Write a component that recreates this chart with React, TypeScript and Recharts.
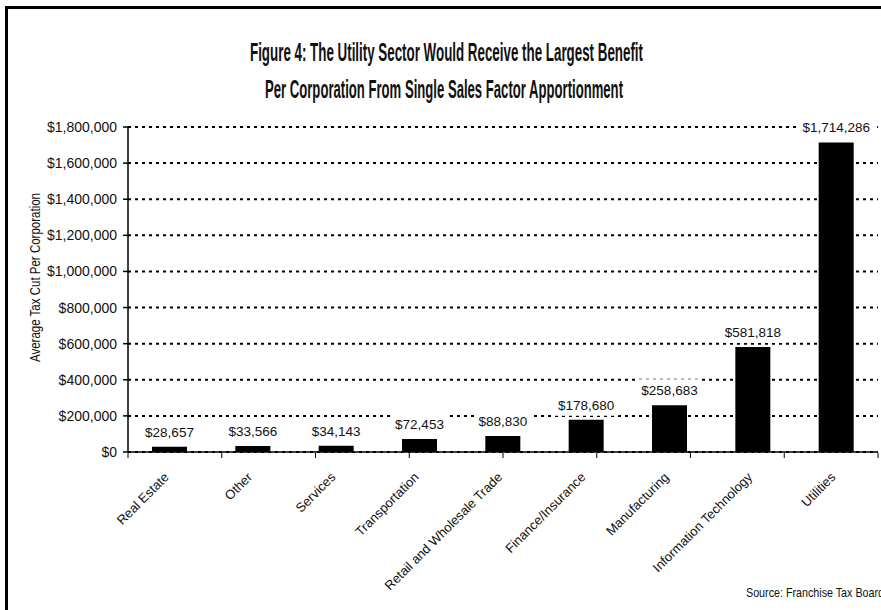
import React from 'react';
import { ComposedChart, Bar, XAxis, YAxis, CartesianGrid, LabelList } from 'recharts';

const categories = [
  'Real Estate',
  'Other',
  'Services',
  'Transportation',
  'Retail and Wholesale Trade',
  'Finance/Insurance',
  'Manufacturing',
  'Information Technology',
  'Utilities',
];
const values = [28657, 33566, 34143, 72453, 88830, 178680, 258683, 581818, 1714286];
const yTicks = [0, 200000, 400000, 600000, 800000, 1000000, 1200000, 1400000, 1600000, 1800000];
const boundaryTicks = [0, 1, 2, 3, 4, 5, 6, 7, 8, 9];

const titleLine1 = 'Figure 4: The Utility Sector Would Receive the Largest Benefit';
const titleLine2 = 'Per Corporation From Single Sales Factor Apportionment';
const yLabel = 'Average Tax Cut Per Corporation';
const sourceText = 'Source: Franchise Tax Board';

const data = categories.map((name, i) => ({ name, value: values[i] }));

const fmt = (v: number) => '$' + v.toLocaleString('en-US');

const SANS = "'Liberation Sans', Arial, sans-serif";
const NARROW = "'Liberation Sans Narrow', 'Liberation Sans', Arial, sans-serif";

const BarValueLabel = (props: any) => {
  const { x, y, width, value } = props;
  const text = fmt(Number(value));
  const commas = (text.match(/,/g) || []).length;
  const w = (text.length - commas) * 7.5 + commas * 3.75 + 8;
  const cx = Number(x) + Number(width) / 2;
  const cy = Number(y) - 15;
  return (
    <g>
      <rect x={cx - w / 2} y={cy - 11} width={w} height={22} fill="#fff" />
      <text x={cx} y={cy} dy="0.36em" textAnchor="middle" fontSize={13.5} fontFamily={SANS} fill="#111">
        {text}
      </text>
    </g>
  );
};

const CategoryTick = (props: any) => {
  const { x, y, payload } = props;
  const ax = Number(x);
  const ay = Number(y) + 26;
  return (
    <text
      x={ax}
      y={ay}
      transform={`rotate(-45 ${ax} ${ay})`}
      textAnchor="end"
      fontSize={13}
      fontFamily={SANS}
      fill="#111"
    >
      {payload.value}
    </text>
  );
};

const EmptyTick = () => <g />;

export default function App() {
  return (
    <div
      style={{
        position: 'absolute',
        left: 0,
        top: 0,
        width: 881,
        height: 610,
        overflow: 'hidden',
        background: '#fff',
      }}
    >
      <div
        style={{
          position: 'absolute',
          left: 5,
          top: 6,
          width: 1000,
          height: 800,
          borderLeft: '3px solid #000',
          borderTop: '3px solid #000',
        }}
      />
      <div style={{ position: 'absolute', left: 0, top: 0 }}>
        <ComposedChart
          width={881}
          height={610}
          data={data}
          margin={{ top: 127, right: 3, bottom: 156, left: 8 }}
          barSize={35}
        >
          <CartesianGrid
            xAxisId="cat"
            vertical={false}
            stroke="#000"
            strokeWidth={2}
            strokeDasharray="3 4"
          />
          <XAxis
            xAxisId="edges"
            type="number"
            domain={[0, 9]}
            ticks={boundaryTicks}
            allowDataOverflow
            height={1}
            axisLine={false}
            stroke="#000"
            tickSize={5}
            tick={EmptyTick}
            interval={0}
          />
          <XAxis
            xAxisId="cat"
            dataKey="name"
            height={1}
            interval={0}
            stroke="#000"
            strokeWidth={1.5}
            tickLine={false}
            tickSize={0}
            tickMargin={0}
            tick={CategoryTick}
          />
          <YAxis
            width={120}
            domain={[0, 1800000]}
            ticks={yTicks}
            interval={0}
            stroke="#000"
            strokeWidth={1.5}
            tickSize={5}
            tickMargin={6}
            tickFormatter={fmt}
            tick={{ fontSize: 14, fontFamily: SANS, fill: '#111' }}
          />
          <Bar xAxisId="cat" dataKey="value" fill="#000" isAnimationActive={false}>
            <LabelList dataKey="value" content={BarValueLabel} />
          </Bar>
        </ComposedChart>
      </div>
      <svg
        width={881}
        height={610}
        style={{ position: 'absolute', left: 0, top: 0, pointerEvents: 'none' }}
      >
        <text
          x={446.5}
          y={61}
          textAnchor="middle"
          fontSize={26}
          fontWeight="bold"
          fontFamily={NARROW}
          textLength={393}
          lengthAdjust="spacingAndGlyphs"
          fill="#111"
        >
          {titleLine1}
        </text>
        <text
          x={444}
          y={98}
          textAnchor="middle"
          fontSize={26}
          fontWeight="bold"
          fontFamily={NARROW}
          textLength={358}
          lengthAdjust="spacingAndGlyphs"
          fill="#111"
        >
          {titleLine2}
        </text>
        <text
          x={0}
          y={0}
          transform="translate(39.5 277.5) rotate(-90)"
          textAnchor="middle"
          fontSize={14.5}
          fontFamily={NARROW}
          textLength={169}
          lengthAdjust="spacingAndGlyphs"
          fill="#111"
        >
          {yLabel}
        </text>
        <text
          x={746}
          y={597}
          fontSize={13}
          fontFamily={NARROW}
          textLength={138}
          lengthAdjust="spacingAndGlyphs"
          fill="#111"
        >
          {sourceText}
        </text>
      </svg>
    </div>
  );
}
